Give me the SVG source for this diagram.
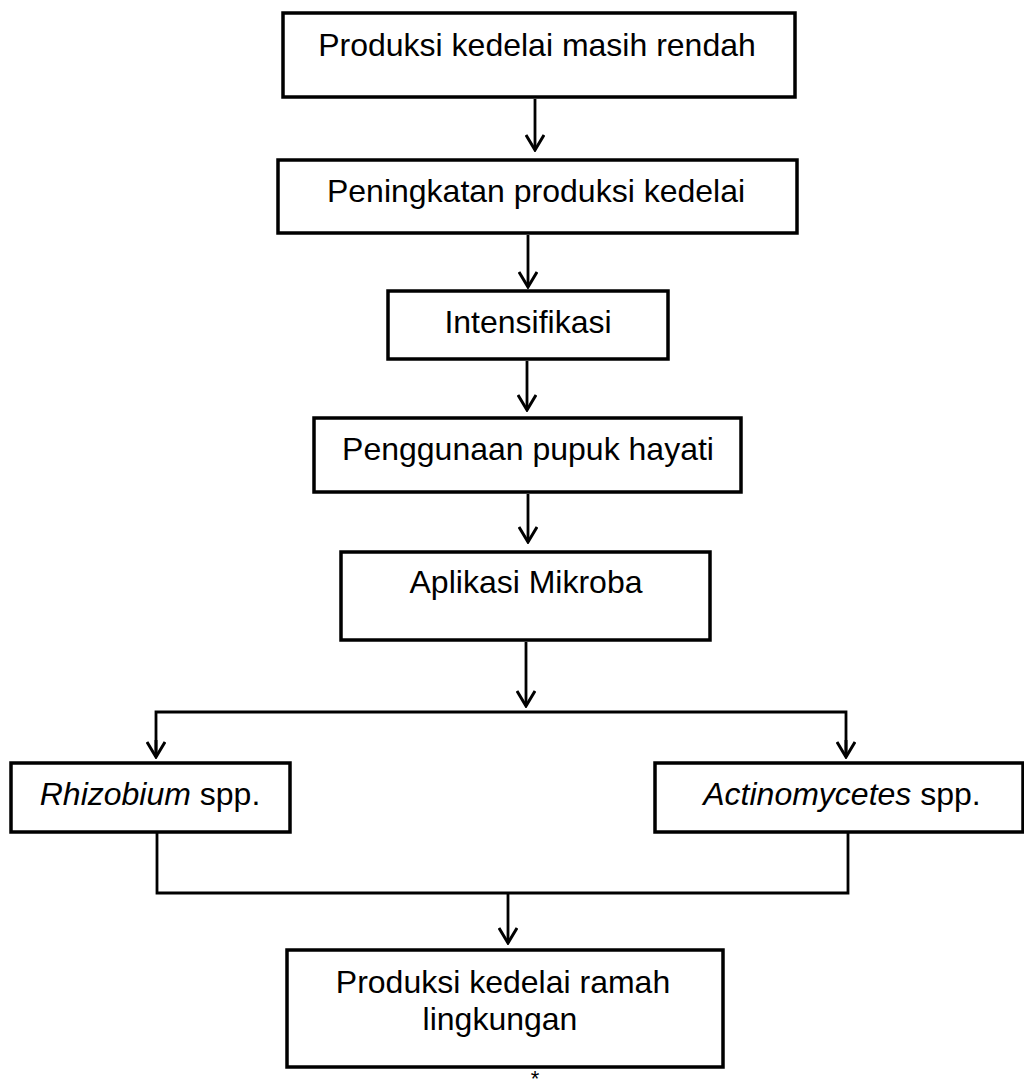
<svg xmlns="http://www.w3.org/2000/svg" width="1024" height="1081" viewBox="0 0 1024 1081">
<style>
.box{fill:#fff;stroke:#000;stroke-width:3.5}
.t{font-family:"Liberation Sans",Arial,sans-serif;font-size:32px;fill:#000;text-anchor:middle}
.c{fill:none;stroke:#000;stroke-width:2.8}
.i{font-style:italic}
</style>
<defs>
<marker id="ah" viewBox="0 0 20 20" refX="18" refY="10" markerWidth="20" markerHeight="20" markerUnits="userSpaceOnUse" orient="auto">
<path d="M3,1 L18,10 L3,19" fill="none" stroke="#000" stroke-width="3"/>
</marker>
</defs>
<rect width="1024" height="1081" fill="#fff"/>
<g id="connectors">
<line class="c" x1="535" y1="99" x2="535" y2="150" marker-end="url(#ah)"/>
<line class="c" x1="528" y1="235" x2="528" y2="287" marker-end="url(#ah)"/>
<line class="c" x1="527" y1="361" x2="527" y2="410" marker-end="url(#ah)"/>
<line class="c" x1="528" y1="494" x2="528" y2="542" marker-end="url(#ah)"/>
<line class="c" x1="526" y1="642" x2="526" y2="706" marker-end="url(#ah)"/>
<polyline class="c" points="156,757 156,712 846,712 846,757"/>
<line class="c" x1="156" y1="740" x2="156" y2="757" marker-end="url(#ah)"/>
<line class="c" x1="846" y1="740" x2="846" y2="757" marker-end="url(#ah)"/>
<polyline class="c" points="157,832 157,893 848,893 848,832"/>
<line class="c" x1="508" y1="893" x2="508" y2="943" marker-end="url(#ah)"/>
</g>
<g id="n1"><rect class="box" x="283" y="13" width="512" height="84"/><text class="t" x="537" y="56">Produksi kedelai masih rendah</text></g>
<g id="n2"><rect class="box" x="278" y="160" width="519" height="73"/><text class="t" x="536" y="202">Peningkatan produksi kedelai</text></g>
<g id="n3"><rect class="box" x="388" y="291" width="280" height="68"/><text class="t" x="528" y="333">Intensifikasi</text></g>
<g id="n4"><rect class="box" x="314" y="418" width="427" height="74"/><text class="t" x="528" y="460">Penggunaan pupuk hayati</text></g>
<g id="n5"><rect class="box" x="341" y="552" width="369" height="88"/><text class="t" x="526" y="593">Aplikasi Mikroba</text></g>
<g id="n6"><rect class="box" x="11" y="763" width="279" height="69"/><text class="t" x="150" y="805"><tspan class="i">Rhizobium</tspan> spp.</text></g>
<g id="n7"><rect class="box" x="655" y="763" width="368" height="69"/><text class="t" x="842" y="805"><tspan class="i">Actinomycetes</tspan> spp.</text></g>
<g id="n8"><rect class="box" x="287" y="950" width="436" height="117"/><text class="t" x="503" y="993">Produksi kedelai ramah</text><text class="t" x="500" y="1030">lingkungan</text></g>
<text class="t" x="535" y="1086" style="font-size:22px">*</text>
</svg>
